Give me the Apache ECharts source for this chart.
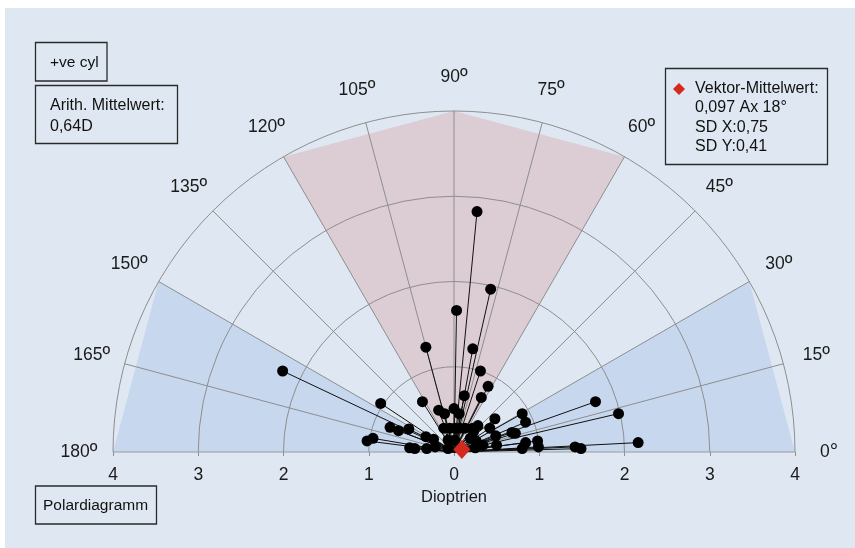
<!DOCTYPE html>
<html><head><meta charset="utf-8">
<script src="https://cdn.jsdelivr.net/npm/echarts@6/dist/echarts.min.js"></script>
<style>html,body{margin:0;padding:0;background:#fff}#c{width:855px;height:548px}</style>
</head><body><div id="c"></div>
<script>
// ---- data ----
const radiusRings = [1, 2, 3, 4];
const angleTicks = [0, 15, 30, 45, 60, 75, 90, 105, 120, 135, 150, 165, 180];
const angleLabels = ['0°', '15º', '30º', '45º', '60º', '75º', '90º', '105º', '120º', '135º', '150º', '165º', '180º'];
const blueWedgeRight = [0, 30];
const blueWedgeLeft = [150, 180];
const pinkWedge = [60, 90, 120];
const cylX = [0.27, 0.43, 0.03, -0.33, 0.22, 0.31, 0.40, -2.01, -0.86, -0.37, -0.75, -0.65, -0.53, -0.95, -1.02,
  -0.33, -0.24, -0.18, -0.11, 0.00, 0.06, 0.12, 0.32, -0.52, -0.46, -0.32, -0.22, 1.66, 1.93, 0.80,
  0.84, 0.48, 0.42, 0.72, 0.49, 2.16, 0.98, 0.84, 0.99, 0.80, 1.42, 1.49, 0.50, 0.26, 0.25,
  0.34, -0.07, -0.07, 0.01, 0.19, -0.12, -0.05, 0.01, 0.07, 0.13, 0.22, 0.28, 0.68, 0.23];
const cylY = [2.82, 1.91, 1.66, 1.23, 1.21, 0.95, 0.77, 0.95, 0.57, 0.59, 0.29, 0.25, 0.27, 0.16, 0.13,
  0.18, 0.15, 0.49, 0.45, 0.51, 0.45, 0.66, 0.64, 0.05, 0.04, 0.04, 0.06, 0.59, 0.45, 0.45,
  0.35, 0.39, 0.28, 0.22, 0.19, 0.11, 0.13, 0.11, 0.06, 0.04, 0.06, 0.04, 0.08, 0.13, 0.05,
  0.08, 0.04, 0.14, 0.14, 0.16, 0.28, 0.28, 0.28, 0.28, 0.28, 0.28, 0.31, 0.23, 0.24];
const meanX = [0.092];
const meanY = [0.030];
const legendLines = ['Vektor-Mittelwert:', '0,097 Ax 18°', 'SD X:0,75', 'SD Y:0,41'];

const FONT = "'Liberation Sans', Arial, Helvetica, sans-serif";
const points = cylX.map((x, i) => [x, cylY[i]]);
const meanPts = meanX.map((x, i) => [x, meanY[i]]);

function renderPolarGrid(params, api) {
  const c = api.coord([0, 0]);
  const u = api.size([1, 1])[0];
  const P = (r, a) => [c[0] + r * u * Math.cos(a * Math.PI / 180), c[1] - r * u * Math.sin(a * Math.PI / 180)];
  const ch = [];
  [blueWedgeRight, blueWedgeLeft].forEach(w => ch.push({
    type: 'polygon', shape: { points: [c].concat(w.map(a => P(4, a))) }, style: { fill: '#c6d7ee' }
  }));
  ch.push({ type: 'polygon', shape: { points: [c].concat(pinkWedge.map(a => P(4, a))) }, style: { fill: '#dccdd5' } });
  radiusRings.forEach(r => ch.push({
    type: 'arc', shape: { cx: c[0], cy: c[1], r: r * u, startAngle: Math.PI, endAngle: 2 * Math.PI },
    style: { stroke: '#8e8e8e', fill: null, lineWidth: 1 }
  }));
  angleTicks.forEach(a => {
    if (a > 0 && a < 180) {
      const e = P(4, a);
      ch.push({ type: 'line', shape: { x1: c[0], y1: c[1], x2: e[0], y2: e[1] }, style: { stroke: '#8e8e8e', lineWidth: 1 } });
    }
  });
  const l = P(4, 180), r = P(4, 0);
  ch.push({ type: 'line', shape: { x1: l[0], y1: l[1], x2: r[0], y2: r[1] }, style: { stroke: '#9a9a9a', lineWidth: 1.2 } });
  angleTicks.forEach((a, i) => {
    const p = P(4.4, a);
    const lab = angleLabels[i];
    const num = lab.slice(0, -1), deg = lab.slice(-1);
    ch.push({ type: 'text', x: p[0], y: p[1], style: {
      text: '{n|' + num + '}{s|' + deg + '}', align: 'center', verticalAlign: 'middle', fontFamily: FONT, fill: '#1a1a1a',
      rich: {
        n: { fontSize: 17.5, fontFamily: FONT, fill: '#1a1a1a', lineHeight: 20 },
        s: { fontSize: 21, fontFamily: FONT, fill: '#1a1a1a', lineHeight: 20 }
      } } });
  });
  return { type: 'group', children: ch };
}

function renderSpoke(params, api) {
  const o = api.coord([0, 0]);
  const p = api.coord([api.value(0), api.value(1)]);
  return { type: 'line', shape: { x1: o[0], y1: o[1], x2: p[0], y2: p[1] }, style: { stroke: '#111', lineWidth: 1 } };
}

const chart = echarts.init(document.getElementById('c'), null, { renderer: 'canvas' });
const boxStyle = { fill: 'transparent', stroke: '#2a2a2a', lineWidth: 1.3 };
const txt = (x, y, t, fs) => ({ type: 'text', x: x, y: y, style: { text: t, fontSize: fs, fontFamily: FONT, fill: '#111', verticalAlign: 'middle' }, z: 100 });

chart.setOption({
  animation: false,
  backgroundColor: '#ffffff',
  grid: { left: 113, right: 60, top: 111, bottom: 96 },
  xAxis: {
    type: 'value', min: -4, max: 4, interval: 1,
    axisLine: { show: false }, splitLine: { show: false },
    axisTick: { show: true, length: 4, lineStyle: { color: '#8e8e8e' } },
    axisLabel: { formatter: v => String(Math.abs(v)), fontSize: 17.5, color: '#1a1a1a', margin: 14, fontFamily: FONT },
    name: 'Dioptrien', nameLocation: 'middle', nameGap: 34,
    nameTextStyle: { fontSize: 16.5, color: '#1a1a1a', fontFamily: FONT }
  },
  yAxis: { type: 'value', min: 0, max: 4, show: false },
  graphic: [
    { type: 'rect', shape: { x: 5, y: 8, width: 850, height: 540 }, style: { fill: '#dfe8f2' }, z: -10, silent: true },
    { type: 'rect', shape: { x: 35.5, y: 42.5, width: 71.5, height: 38.5 }, style: boxStyle, z: 100 },
    txt(50, 63, '+ve cyl', 15.5),
    { type: 'rect', shape: { x: 35.5, y: 85.5, width: 142, height: 58 }, style: boxStyle, z: 100 },
    txt(50, 106, 'Arith. Mittelwert:', 16),
    txt(50, 127, '0,64D', 16),
    { type: 'rect', shape: { x: 665.5, y: 68.5, width: 162, height: 96 }, style: boxStyle, z: 100 },
    { type: 'polygon', shape: { points: [[679, 83], [685, 89], [679, 95], [673, 89]] }, style: { fill: '#d42a1e' }, z: 100 },
    txt(695, 89, legendLines[0], 16),
    txt(695, 108, legendLines[1], 16),
    txt(695, 127.5, legendLines[2], 16),
    txt(695, 147, legendLines[3], 16),
    { type: 'rect', shape: { x: 35.5, y: 486, width: 121, height: 38 }, style: boxStyle, z: 100 },
    txt(43, 506, 'Polardiagramm', 15.5)
  ],
  series: [
    { type: 'custom', renderItem: renderPolarGrid, data: [[0, 0]], clip: false, z: 1, silent: true },
    { type: 'custom', renderItem: renderSpoke, data: points, z: 3, silent: true },
    { type: 'scatter', data: points, symbol: 'circle', symbolSize: 11, itemStyle: { color: '#000', opacity: 1 }, z: 4 },
    { type: 'scatter', data: meanPts, symbol: 'diamond', symbolSize: [17, 19], itemStyle: { color: '#d42a1e', opacity: 1 }, z: 5 }
  ]
});
</script></body></html>
